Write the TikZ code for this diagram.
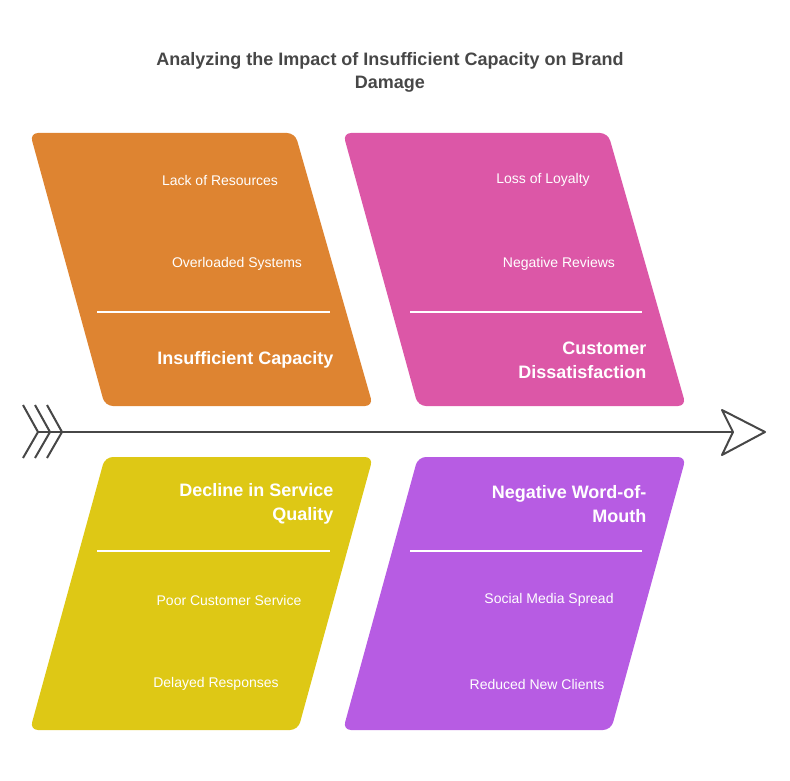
\documentclass[tikz,border=0pt]{standalone}
\usepackage{fontspec}
\setmainfont{Liberation Sans}
\begin{document}
\begin{tikzpicture}[x=1pt,y=-1pt,
  bone/.style={rounded corners=8pt},
  sep/.style={white,line width=1.2pt},
  small/.style={text=white,font=\fontsize{14}{16}\selectfont},
  big/.style={text=white,font=\bfseries\fontsize{18}{24}\selectfont,align=right,anchor=east},
  ink/.style={draw=black!72,line width=2pt,line join=round}]
\useasboundingbox (0,0) rectangle (790,781);
\definecolor{corange}{HTML}{DE8431}
\definecolor{cpink}{HTML}{DC57A7}
\definecolor{cyellow}{HTML}{DEC815}
\definecolor{cpurple}{HTML}{B75CE3}
\node[font=\bfseries\fontsize{18}{23}\selectfont,text=black!72,align=center] (title) at (390,72) {Analyzing the Impact of Insufficient Capacity on Brand\\Damage};
\fill[corange,bone] (30,133) -- (295,133) -- (373,406) -- (105,406) -- cycle;
\fill[cpink,bone] (343,133) -- (608,133) -- (686,406) -- (418,406) -- cycle;
\fill[cyellow,bone] (105,457) -- (373,457) -- (298,730) -- (30,730) -- cycle;
\fill[cpurple,bone] (418,457) -- (686,457) -- (611,730) -- (343,730) -- cycle;
\draw[sep] (97,312) -- (330,312);
\draw[sep] (410,312) -- (642,312);
\draw[sep] (97,551) -- (330,551);
\draw[sep] (410,551) -- (642,551);
\node[small] (a1) at (220,180) {Lack of Resources};
\node[small] (a2) at (237,264) {Overloaded Systems};
\node[big] (a) at (337,360) {Insufficient Capacity};
\node[small] (b1) at (543,180) {Loss of Loyalty};
\node[small] (b2) at (559,264) {Negative Reviews};
\node[big] (b) at (650,360) {Customer\\Dissatisfaction};
\node[big] (c) at (337,504) {Decline in Service\\Quality};
\node[small] (c1) at (229,600) {Poor Customer Service};
\node[small] (c2) at (216,684) {Delayed Responses};
\node[big] (d) at (650,504) {Negative Word-of-\\Mouth};
\node[small] (d1) at (549,600) {Social Media Spread};
\node[small] (d2) at (537,684) {Reduced New Clients};
\coordinate (s0) at (38,432);
\coordinate (s1) at (733,432);
\draw[ink] (s0) -- (s1);
\foreach \o in {0,12,24} \draw[ink] (23+\o,405) -- (38+\o,432) -- (23+\o,458);
\draw[ink] (722,410) -- (765,432) -- (722,455) -- (s1) -- cycle;
\end{tikzpicture}
\end{document}
